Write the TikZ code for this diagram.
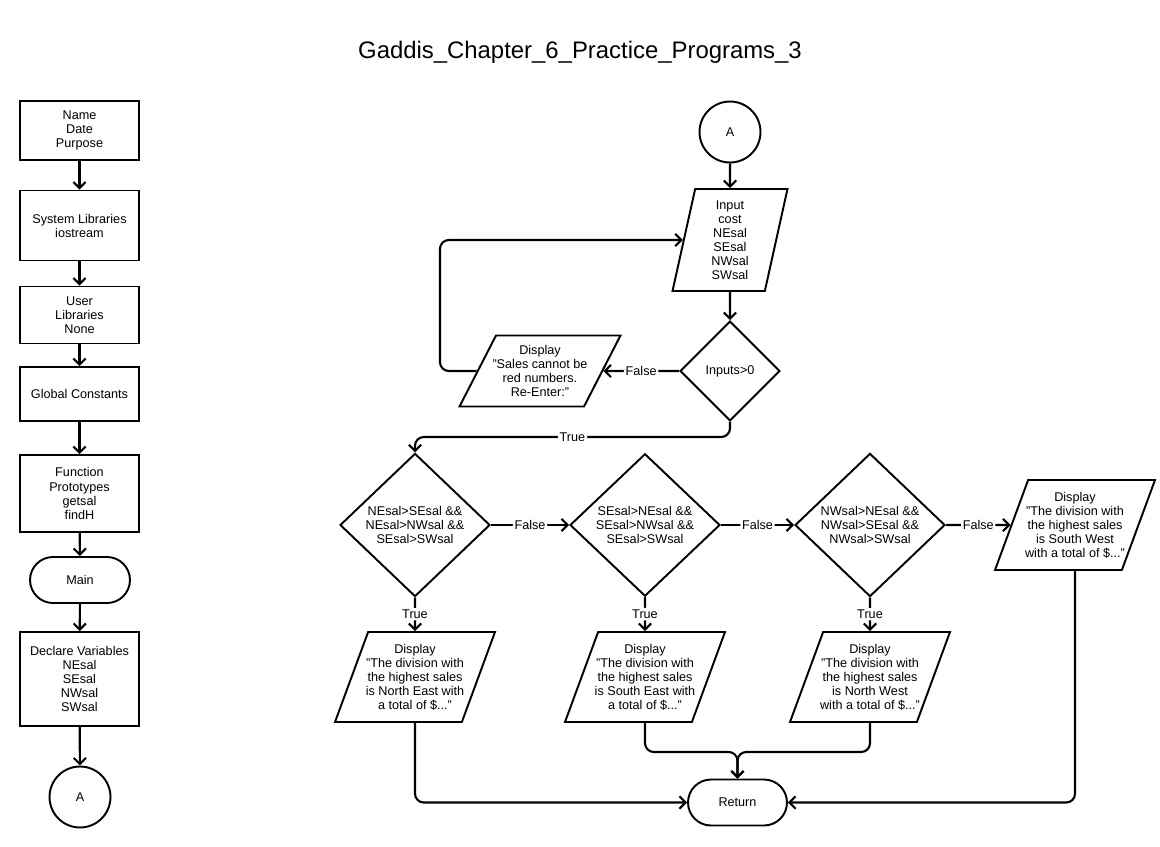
\documentclass[tikz,border=0pt]{standalone}
\usepackage{fontspec}
\setmainfont{Liberation Sans}
\usepackage{tikz}
\usetikzlibrary{shapes.geometric,arrows.meta}

\tikzset{
  txt/.style={font=\fontsize{7.2}{8}\selectfont},
  box/.style={draw, line width=1.1pt, txt, align=center, minimum width=2.38cm},
  term/.style={box, rounded corners=0.46cm, minimum width=2cm, minimum height=0.92cm},
  conn/.style={draw, circle, line width=1.1pt, txt, minimum size=1.22cm},
  io/.style={draw, line width=1.1pt, txt, align=center, trapezium,
    trapezium left angle=67, trapezium right angle=113, trapezium stretches body,
    inner xsep=-12pt, minimum width=3.2cm, minimum height=1.8cm},
  dec/.style={draw, line width=1.1pt, txt, align=center, diamond, inner sep=1pt,
    minimum width=3cm, minimum height=2.8cm},
  lbl/.style={txt, fill=white, inner sep=1pt},
  flow/.style={line width=1.2pt, rounded corners=5pt, -{Straight Barb[length=3.5pt,width=7pt]}}
}

\begin{document}
\begin{tikzpicture}[x=0.02cm, y=-0.02cm]
  \useasboundingbox (0,0) rectangle (1160,846);

  \node[font=\fontsize{13.6}{16}\selectfont] (title) at (580,52) {Gaddis\_Chapter\_6\_Practice\_Programs\_3};

  % left column
  \node[box, minimum height=1.18cm] (name) at (79.5,130.5) {Name\\Date\\Purpose};
  \node[box, minimum height=1.4cm] (syslib) at (79.5,225.5) {System Libraries\\iostream};
  \node[box, minimum height=1.14cm] (userlib) at (79.5,315) {User\\Libraries\\None};
  \node[box, minimum height=1.08cm] (global) at (79.5,394) {Global Constants};
  \node[box, minimum height=1.54cm] (protos) at (79.5,493.5) {Function\\Prototypes\\getsal\\findH};
  \node[term] (main) at (80,580) {Main};
  \node[box, minimum height=1.88cm] (decl) at (79.5,679) {Declare Variables\\NEsal\\SEsal\\NWsal\\SWsal};
  \node[conn] (offA) at (80,797) {A};

  \foreach \a/\b in {name/syslib, syslib/userlib, userlib/global, global/protos,
                     protos/main, main/decl, decl/offA}
    \draw[flow] (\a) -- (\b);

  % input and check
  \node[conn] (onA) at (730,132) {A};
  \node[io, trapezium left angle=76, trapezium right angle=104,
        minimum width=2.3cm, minimum height=2.04cm] (input) at (730,240)
        {Input\\cost\\NEsal\\SEsal\\NWsal\\SWsal};
  \node[dec, minimum width=2cm, minimum height=2cm] (valid) at (730,371) {Inputs>0};
  \node[io, trapezium left angle=60, trapezium right angle=120,
        minimum width=3.22cm, minimum height=1.42cm] (redo) at (540,371)
        {Display\\"Sales cannot be\\red numbers.\\Re-Enter:"};
  \coordinate (loop) at (440,300);
  \coordinate (tbend) at (415,437);

  \draw[flow] (onA) -- (input);
  \draw[flow] (input) -- (valid);
  \draw[flow] (valid) -- node[lbl]{False} (redo);
  \draw[flow] (redo) -| (loop) |- (input);

  % decisions
  \node[dec] (ne) at (415,525) {NEsal>SEsal \&\&\\NEsal>NWsal \&\&\\SEsal>SWsal};
  \node[dec] (se) at (645,525) {SEsal>NEsal \&\&\\SEsal>NWsal \&\&\\SEsal>SWsal};
  \node[dec] (nw) at (870,525) {NWsal>NEsal \&\&\\NWsal>SEsal \&\&\\NWsal>SWsal};
  \node[io] (swout) at (1075,525)
        {Display\\"The division with\\the highest sales\\is South West\\with a total of \$..."};

  \node[io] (neout) at (415,677)
        {Display\\"The division with\\the highest sales\\is North East with\\a total of \$..."};
  \node[io] (seout) at (645,677)
        {Display\\"The division with\\the highest sales\\is South East with\\a total of \$..."};
  \node[io] (nwout) at (870,677)
        {Display\\"The division with\\the highest sales\\is North West\\with a total of \$..."};

  \node[term, minimum width=1.98cm] (ret) at (737.5,802.5) {Return};
  \coordinate (merge) at (737.5,752);

  \draw[flow] (valid) |- node[lbl, pos=0.75]{True} (tbend) -- (ne);
  \draw[flow] (ne) -- node[lbl]{False} (se);
  \draw[flow] (se) -- node[lbl]{False} (nw);
  \draw[flow] (nw) -- node[lbl]{False} (swout);

  \draw[flow] (ne) -- node[lbl]{True} (neout);
  \draw[flow] (se) -- node[lbl]{True} (seout);
  \draw[flow] (nw) -- node[lbl]{True} (nwout);

  \draw[flow] (neout) |- (ret);
  \draw[flow] (swout) |- (ret);
  \draw[flow] (seout) |- (merge) -- (ret);
  \draw[flow] (nwout) |- (merge) -- (ret);
\end{tikzpicture}
\end{document}
